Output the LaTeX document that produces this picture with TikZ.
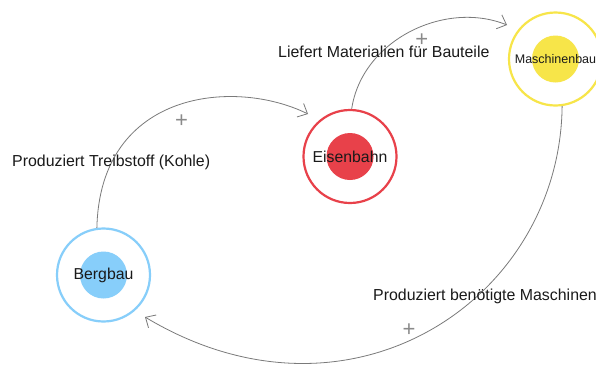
\documentclass[tikz,border=0pt]{standalone}
\usepackage{fontspec}
\setmainfont{Liberation Sans}
\usetikzlibrary{arrows.meta,calc}
\definecolor{bluec}{HTML}{87CEFA}
\definecolor{redc}{HTML}{E8414A}
\definecolor{yellowc}{HTML}{F7E549}
\definecolor{edgec}{HTML}{7A7A7A}
\definecolor{plusc}{HTML}{8A8A8A}
\definecolor{textc}{HTML}{1A1A1A}
\begin{document}
\begin{tikzpicture}[x=1pt,y=-1pt,
  ring/.style={circle, draw=#1, line width=2.2pt, minimum size=93pt, inner sep=0pt, text=textc,
    path picture={\fill[#1] (path picture bounding box.center) circle (23.5pt);}},
  big/.style={font=\fontsize{15.8}{18}\selectfont},
  small/.style={font=\fontsize{12.5}{14}\selectfont},
  link/.style={draw=edgec, line width=0.8pt, -{Straight Barb[length=8pt,width=15pt]}},
  lab/.style={anchor=base west, text=textc, font=\fontsize{15.9}{18}\selectfont, inner sep=0pt},
  plus/.style={text=plusc, font=\fontsize{22}{24}\selectfont, inner sep=0pt}]
\useasboundingbox[fill=white] (0,0) rectangle (596,365);

\node[ring=bluec, big] (berg) at (103.5,275) {Bergbau};
\node[ring=redc, big] (eisen) at (350,156.5) {Eisenbahn};
\node[ring=yellowc, small] (masch) at (555.5,59) {Maschinenbau};

\coordinate (tipE) at ($(eisen)+(-42,-42.5)$);
\coordinate (tipM) at ($(masch)+(-48.5,-34)$);
\coordinate (tipB) at ($(berg)+(41.5,42)$);

\draw[link] (berg.98) .. controls (100,90) and (235,78) .. (tipE);
\draw[link] (eisen.88) .. controls (362,40) and (445,0) .. (tipM);
\draw[link] (masch.278) .. controls (560,300) and (350,440) .. (tipB);

\node[lab] (l1) at (12,166.7) {Produziert Treibstoff (Kohle)};
\node[lab] (l2) at (278,57.3) {Liefert Materialien für Bauteile};
\node[lab] (l3) at (373,300.7) {Produziert benötigte Maschinen};

\node[plus] (p1) at (181.5,121.5) {+};
\node[plus] (p2) at (421.7,40) {+};
\node[plus] (p3) at (409,330) {+};
\end{tikzpicture}
\end{document}
